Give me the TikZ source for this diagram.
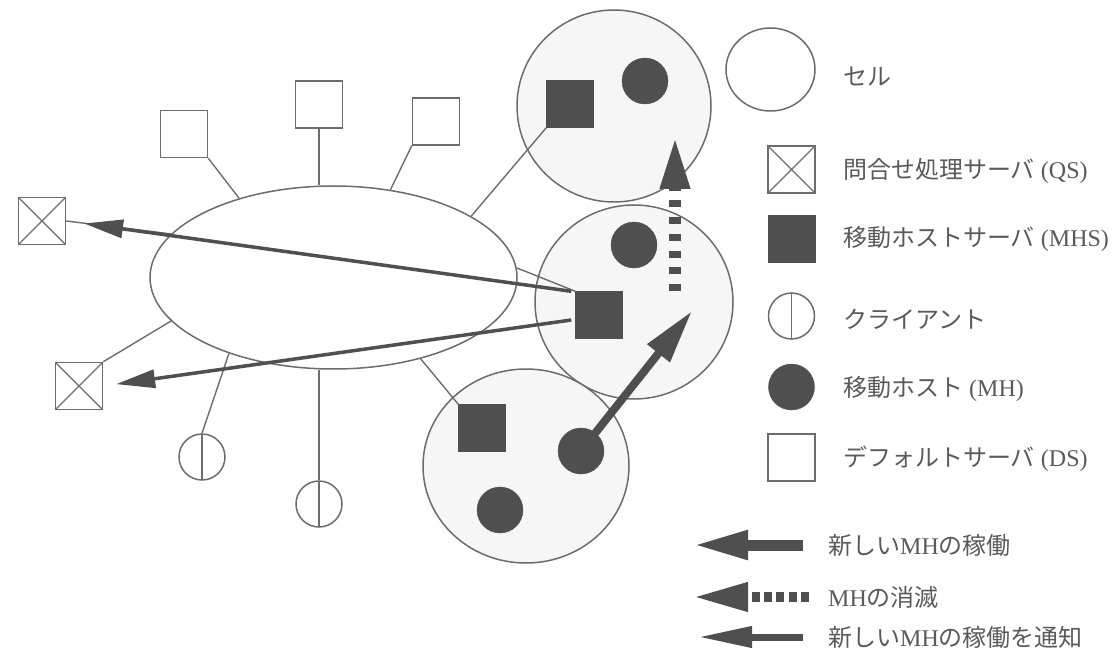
\documentclass[tikz,border=0pt]{standalone}
\usepackage{fontspec}
\setmainfont{Liberation Serif}
\newfontfamily\jp{Noto Sans CJK JP}
\usetikzlibrary{arrows.meta}
\usetikzlibrary{shapes.geometric}
\definecolor{linea}{HTML}{6C6C6C}
\definecolor{scuro}{HTML}{4F4F4F}
\definecolor{testo}{HTML}{5A5A5A}
\definecolor{cella}{HTML}{F6F6F6}

\begin{document}
\begin{tikzpicture}[x=1pt,y=-1pt,
		conn/.style={draw=linea, line width=1.4pt},
		cell/.style={ellipse, draw=linea, line width=1.5pt, fill=cella, inner sep=0pt},
		dsbox/.style={rectangle, draw=linea, line width=1.5pt, fill=white, minimum size=47pt, inner sep=0pt},
		qsbox/.style={dsbox, path picture={\draw[linea, line width=1.3pt] (path picture bounding box.north west) -- (path picture bounding box.south east) (path picture bounding box.north east) -- (path picture bounding box.south west);}},
		mhsbox/.style={rectangle, draw=scuro, fill=scuro, minimum size=47pt, inner sep=0pt},
		mhdot/.style={circle, draw=scuro, fill=scuro, minimum size=46pt, inner sep=0pt},
		client/.style={circle, draw=linea, line width=1.5pt, fill=white, minimum size=46pt, inner sep=0pt, path picture={\draw[linea, line width=1.3pt] (path picture bounding box.north) -- (path picture bounding box.south);}},
		lbl/.style={anchor=west, text=testo, font=\fontsize{24}{28}\selectfont, inner sep=0pt},
		notify/.style={draw=scuro, line width=3.5pt, -{Triangle[length=39pt, width=18pt]}},
		newmh/.style={draw=scuro, line width=8pt, -{Triangle[length=54pt, width=27pt]}},
		gonemh/.style={draw=scuro, line width=12pt, dash pattern=on 7pt off 9.7pt, -{Triangle[length=54pt, width=27pt]}}
	]
	\useasboundingbox (0,0) rectangle (1119,655);

	% celle
	\node[cell, minimum width=194pt, minimum height=192pt] (cT) at (614,106) {};
	\node[cell, minimum width=198pt, minimum height=194pt] (cM) at (634,302) {};
	\node[cell, minimum width=206pt, minimum height=194pt] (cB) at (526,466) {};

	% rete
	\node[ellipse, draw=linea, line width=1.5pt, minimum width=367pt, minimum height=183pt, inner sep=0pt] (rete) at (333.5,277.5) {};

	\node[dsbox] (ds1) at (184,134) {};
	\node[dsbox] (ds2) at (319,104.5) {};
	\node[dsbox] (ds3) at (436,121.5) {};
	\node[qsbox] (qs1) at (42,221) {};
	\node[qsbox] (qs2) at (79,386) {};
	\node[client] (cl1) at (202,457) {};
	\node[client] (cl2) at (319,504) {};

	\node[mhsbox] (mhsT) at (570,104) {};
	\node[mhsbox] (mhsM) at (599,315) {};
	\node[mhsbox] (mhsB) at (482,428) {};
	\node[mhdot] (mhT) at (645,81) {};
	\node[mhdot] (mhM) at (634,245) {};
	\node[mhdot] (mhB) at (581,451) {};
	\node[mhdot] (mhL) at (500,510) {};

	% collegamenti
	\draw[conn] (ds1.south east) -- (rete.140);
	\draw[conn] (ds2.south) -- (ds2.south |- rete.north);
	\draw[conn] (ds3.south west) -- (rete.57);
	\draw[conn] (qs1.east) -- (rete.165);
	\draw[conn] (qs2.north east) -- (rete.195);
	\draw[conn] (cl1.north) -- (rete.216);
	\draw[conn] (cl2.north) -- (cl2.north |- rete.south);
	\draw[conn] (mhsT.south west) -- (rete.24);
	\draw[conn] (mhsM.north west) -- (rete.3);
	\draw[conn] (mhsB.north west) -- (rete.-43);

	% frecce
	\coordinate (nuovo) at (692,311);
	\coordinate (via) at (675,291);
	\coordinate (viatip) at (675,135);
	\draw[notify, shorten >=18pt] ([xshift=-4pt]mhsM.north west) -- (qs1.east); % verso QS in alto
	\draw[notify, shorten >=13pt] ([xshift=-4pt, yshift=-5pt]mhsM.west) -- (qs2.east); % verso QS in basso
	\draw[newmh] (mhB.center) -- (nuovo);
	\draw[gonemh] (via) -- (viatip);

	% legenda
	\node[cell, fill=white, minimum width=89pt, minimum height=83pt] (lcell) at (770.5,69.5) {};
	\node[qsbox] (lqs) at (791.5,169.5) {};
	\node[mhsbox] (lmhs) at (791.5,239) {};
	\node[client] (lcl) at (791.5,316) {};
	\node[mhdot] (lmh) at (791.5,387) {};
	\node[dsbox] (lds) at (791.5,457.5) {};

	\node[lbl] (tcell) at (843,77) {\jp セル};
	\node[lbl] (tqs) at (843,171) {{\jp 問合せ処理サーバ} (QS)};
	\node[lbl] (tmhs) at (843,239) {{\jp 移動ホストサーバ} (MHS)};
	\node[lbl] (tcl) at (843,319) {\jp クライアント};
	\node[lbl] (tmh) at (843,389) {{\jp 移動ホスト} (MH)};
	\node[lbl] (tds) at (843,459) {{\jp デフォルトサーバ} (DS)};

	\coordinate (a1) at (803,545); \coordinate (b1) at (693,545);
	\coordinate (a2) at (809,597); \coordinate (b2) at (693,597);
	\coordinate (a3) at (803,637); \coordinate (b3) at (698,637);
	\draw[draw=scuro, line width=11pt, -{Triangle[length=55pt, width=27pt]}] (a1) -- (b1);
	\draw[draw=scuro, line width=10pt, dash pattern=on 8pt off 4.3pt, -{Triangle[length=55pt, width=27pt]}] (a2) -- (b2);
	\draw[draw=scuro, line width=7pt, -{Triangle[length=54pt, width=20pt]}] (a3) -- (b3);

	\node[lbl] (t1) at (828,545) {{\jp 新しい}MH{\jp の稼働}};
	\node[lbl] (t2) at (828,597) {MH{\jp の消滅}};
	\node[lbl] (t3) at (828,637) {{\jp 新しい}MH{\jp の稼働を通知}};
\end{tikzpicture}
\end{document}
